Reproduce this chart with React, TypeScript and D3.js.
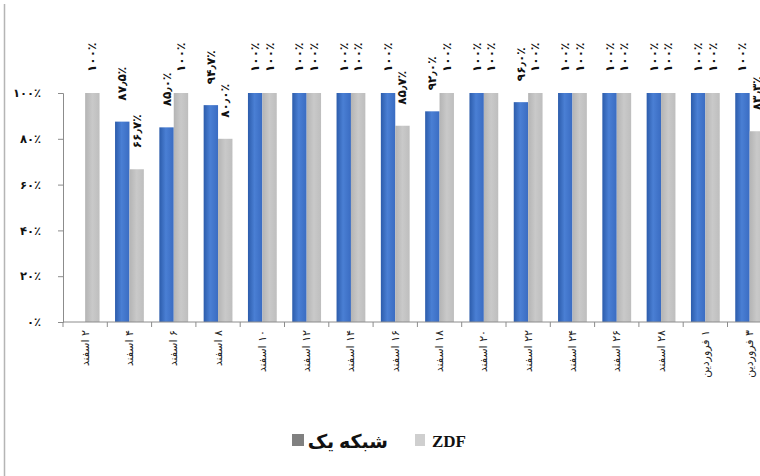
import React, { useEffect, useRef } from "react";
import * as d3 from "d3";

const categories = [
  "۲ اسفند", "۴ اسفند", "۶ اسفند", "۸ اسفند", "۱۰ اسفند", "۱۲ اسفند", "۱۴ اسفند", "۱۶ اسفند",
  "۱۸ اسفند", "۲۰ اسفند", "۲۲ اسفند", "۲۴ اسفند", "۲۶ اسفند", "۲۸ اسفند", "۱ فروردین", "۳ فروردین",
];
const seriesNames = ["شبکه یک", "ZDF"];
const channelOne: (number | null)[] = [null, 87.5, 85.0, 94.7, 100, 100, 100, 100, 92.0, 100, 96.0, 100, 100, 100, 100, 100];
const zdf: (number | null)[] = [100, 66.7, 100, 80.0, 100, 100, 100, 85.7, 100, 100, 100, 100, 100, 100, 100, 83.3];
const yTicks = [0, 20, 40, 60, 80, 100];

const faDigits = "۰۱۲۳۴۵۶۷۸۹";
const toFa = (s: string) => s.replace(/[0-9]/g, (c) => faDigits[+c]).replace(".", "٫");
const pct = (v: number) => (v === 100 ? toFa("100") : toFa(v.toFixed(1))) + "٪";

const W = 760;
const H = 476;

export default function App() {
  const node = useRef<SVGSVGElement>(null);

  useEffect(() => {
    const svg = d3.select(node.current);
    svg.selectAll("*").remove();

    const left = 63;
    const top = 93;
    const bottom = 322;
    const step = 44.3;

    const x0 = d3
      .scaleBand()
      .domain(categories)
      .range([left, left + step * categories.length])
      .paddingInner(0.35)
      .paddingOuter(0.175);
    const x1 = d3.scaleBand().domain(seriesNames).range([0, x0.bandwidth()]);
    const y = d3.scaleLinear().domain([0, 100]).range([bottom, top]);

    const defs = svg.append("defs");
    const gb = defs.append("linearGradient").attr("id", "gblue");
    gb.append("stop").attr("offset", "0%").attr("stop-color", "#2c5cab");
    gb.append("stop").attr("offset", "45%").attr("stop-color", "#4a7fd4");
    gb.append("stop").attr("offset", "100%").attr("stop-color", "#3a6cc2");
    const gg = defs.append("linearGradient").attr("id", "ggrey");
    gg.append("stop").attr("offset", "0%").attr("stop-color", "#b4b4b4");
    gg.append("stop").attr("offset", "50%").attr("stop-color", "#c9c9c9");
    gg.append("stop").attr("offset", "100%").attr("stop-color", "#bebebe");

    svg.append("rect").attr("width", W).attr("height", H).attr("fill", "#fff");
    // left frame edge
    svg.append("line").attr("x1", 4.5).attr("x2", 4.5).attr("y1", 4).attr("y2", H)
      .attr("stroke", "#b5b5b5").attr("stroke-width", 1.5);

    const series = [
      { name: seriesNames[0], values: channelOne, fill: "url(#gblue)" },
      { name: seriesNames[1], values: zdf, fill: "url(#ggrey)" },
    ];

    const rows = series.flatMap((s) =>
      categories.map((c, i) => ({ cat: c, name: s.name, v: s.values[i], fill: s.fill }))
    ).filter((d) => d.v !== null) as { cat: string; name: string; v: number; fill: string }[];

    svg.append("g")
      .selectAll("rect")
      .data(rows)
      .enter()
      .append("rect")
      .attr("x", (d) => (x0(d.cat) as number) + (x1(d.name) as number))
      .attr("width", x1.bandwidth())
      .attr("y", (d) => y(d.v))
      .attr("height", (d) => y(0) - y(d.v))
      .attr("fill", (d) => d.fill);

    // axes
    const yAxis = svg.append("g")
      .attr("transform", `translate(${left},0)`)
      .call(d3.axisLeft(y).tickValues(yTicks).tickSize(5).tickFormat((d) => toFa(String(d)) + "٪"));
    yAxis.select(".domain").attr("stroke", "#8c8c8c");
    yAxis.selectAll(".tick line").attr("stroke", "#8c8c8c");
    yAxis.selectAll(".tick text")
      .attr("x", -22)
      .attr("font-family", "DejaVu Sans")
      .attr("font-weight", "bold")
      .attr("font-size", 11.5)
      .attr("fill", "#111");

    svg.append("line").attr("x1", left).attr("x2", W).attr("y1", bottom).attr("y2", bottom)
      .attr("stroke", "#8c8c8c");
    svg.append("g")
      .selectAll("line")
      .data(categories)
      .enter()
      .append("line")
      .attr("x1", (d) => (x0(d) as number) - x0.step() * 0.175)
      .attr("x2", (d) => (x0(d) as number) - x0.step() * 0.175)
      .attr("y1", bottom)
      .attr("y2", bottom + 5)
      .attr("stroke", "#8c8c8c");

    // category labels, right-to-left, rotated so the number sits on top
    svg.append("g")
      .selectAll("text")
      .data(categories)
      .enter()
      .append("text")
      .attr("transform", (d) => `translate(${(x0(d) as number) + x0.bandwidth() / 2},${bottom + 8}) rotate(-90)`)
      .attr("direction", "rtl")
      .attr("text-anchor", "start")
      .attr("dominant-baseline", "central")
      .attr("font-family", "DejaVu Sans")
      .attr("font-size", 11)
      .attr("fill", "#222")
      .text((d) => d);

    // value labels
    svg.append("g")
      .selectAll("text")
      .data(rows)
      .enter()
      .append("text")
      .attr("transform", (d) =>
        `translate(${(x0(d.cat) as number) + (x1(d.name) as number) + x1.bandwidth() / 2},${y(d.v) - 21}) rotate(-90)`)
      .attr("text-anchor", "start")
      .attr("dominant-baseline", "central")
      .attr("font-family", "DejaVu Sans")
      .attr("font-weight", "bold")
      .attr("font-size", 12)
      .attr("fill", "#111")
      .text((d) => pct(d.v));

    // legend
    const lg = svg.append("g").attr("font-family", "Liberation Serif, DejaVu Sans").attr("font-weight", "bold").attr("fill", "#111");
    lg.append("rect").attr("x", 292).attr("y", 434).attr("width", 12).attr("height", 12).attr("fill", "#808080");
    lg.append("text").attr("x", 388).attr("y", 441).attr("text-anchor", "end").attr("dominant-baseline", "central")
      .attr("font-size", 19).text(seriesNames[0]);
    lg.append("rect").attr("x", 415).attr("y", 434).attr("width", 10).attr("height", 12).attr("fill", "#cfcfcf");
    lg.append("text").attr("x", 432).attr("y", 441).attr("dominant-baseline", "central")
      .attr("font-size", 17).text(seriesNames[1]);
  }, []);

  return (
    <svg ref={node} width={W} height={H} style={{ position: "absolute", left: 0, top: 0 }} />
  );
}
